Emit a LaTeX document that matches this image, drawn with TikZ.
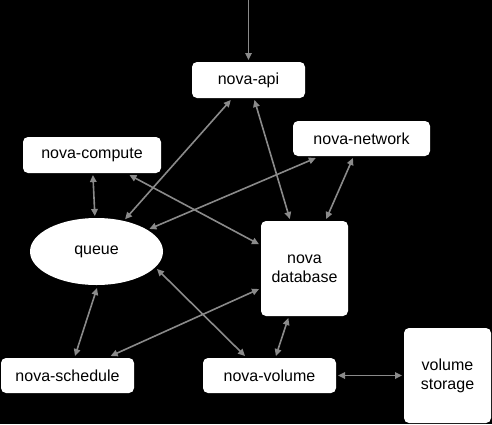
\documentclass[tikz,border=0pt]{standalone}
\usepackage{fontspec}
\setmainfont{Liberation Sans}
\usetikzlibrary{shapes.geometric,arrows.meta,calc}
\definecolor{arrowgray}{HTML}{8A8A8A}
\begin{document}
\begin{tikzpicture}[x=1pt,y=-1pt,
  box/.style={fill=white,draw=none,rounded corners=5pt,inner sep=0pt,outer sep=2pt,
    font=\fontsize{16}{19}\selectfont,align=center},
  oval/.style={ellipse,fill=white,draw=none,inner sep=0pt,outer sep=2pt,
    font=\fontsize{16}{19}\selectfont},
  link/.style={draw=arrowgray,line width=1.6pt,
    {Triangle[length=7pt,width=6.5pt]}-{Triangle[length=7pt,width=6.5pt]}},
  single/.style={draw=arrowgray,line width=1.6pt,-{Triangle[length=7pt,width=6.5pt]}}]
\fill[black] (0,0) rectangle (492,424);
\useasboundingbox (0,0) rectangle (492,424);
\node[box,minimum width=113pt,minimum height=36pt] (api) at (248.5,80) {nova-api};
\node[box,minimum width=137pt,minimum height=35pt] (network) at (361.5,138.5) {nova-network};
\node[box,minimum width=138pt,minimum height=36pt] (compute) at (92,155) {nova-compute};
\node[oval,minimum width=133pt,minimum height=67pt] (queue) at (96.5,251.5) {queue};
\node[box,minimum width=87pt,minimum height=95pt] (db) at (304.5,268.5) {nova\\database};
\node[box,minimum width=133pt,minimum height=35pt] (schedule) at (67.5,375.5) {nova-schedule};
\node[box,minimum width=133pt,minimum height=35pt] (volume) at (269.5,375.5) {nova-volume};
\node[box,minimum width=87pt,minimum height=95pt] (storage) at (447.5,375.5) {volume\\storage};
\coordinate (top) at (248.5,0);
\coordinate (qs) at ($(queue.center)+(0.5,36.5)$);
\coordinate (qv) at ($(queue.center)+(60.5,17.5)$);
\draw[single] (top) -- (api);
\draw[link] (api) -- (queue);
\draw[link] (api) -- (db);
\draw[link] (compute) -- (queue);
\draw[link] (compute) -- (db);
\draw[link] (network) -- (queue);
\draw[link] (network) -- (db);
\draw[link] (qs) -- ([xshift=7.5pt]schedule.north);
\draw[link] (qv) -- ([xshift=-24.5pt]volume.north);
\draw[link] (db) -- (schedule);
\draw[link] (db) -- (volume);
\draw[link] (volume) -- (storage);
\end{tikzpicture}
\end{document}
